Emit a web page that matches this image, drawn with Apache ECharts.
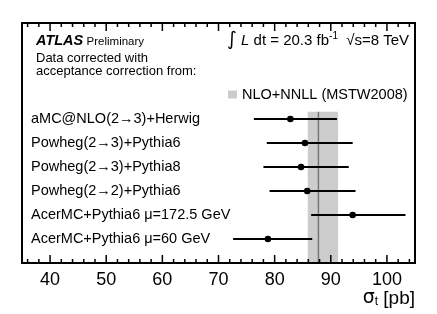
<!DOCTYPE html>
<html><head><meta charset="utf-8">
<script src="https://cdn.jsdelivr.net/npm/echarts@6/dist/echarts.min.js"></script>
<style>html,body{margin:0;padding:0;background:#fff}#c{width:437px;height:314px}</style>
</head><body><div id="c"></div>
<script>
const categories = ['aMC@NLO(2\u21923)+Herwig', 'Powheg(2\u21923)+Pythia6', 'Powheg(2\u21923)+Pythia8', 'Powheg(2\u21922)+Pythia6', 'AcerMC+Pythia6 \u03bc=172.5 GeV', 'AcerMC+Pythia6 \u03bc=60 GeV'];
const rowPos = [6, 5, 4, 3, 2, 1];
const central = [82.8, 85.4, 84.7, 85.8, 93.9, 78.8];
const low = [76.3, 78.6, 78.0, 79.1, 86.5, 72.6];
const high = [91.1, 93.9, 93.2, 94.4, 103.3, 86.7];
const theoryCentral = 87.8;
const theoryLow = 85.9;
const theoryHigh = 91.3;
const bandTop = 6.3;
const majorTicks = [40, 50, 60, 70, 80, 90, 100];
const minorTicks = [36, 38, 42, 44, 46, 48, 52, 54, 56, 58, 62, 64, 66, 68, 72, 74, 76, 78, 82, 84, 86, 88, 92, 94, 96, 98, 102, 104];
const xMin = 35, xMax = 105;

const FONT = 'Liberation Sans';
const chart = echarts.init(document.getElementById('c'), null, {renderer: 'canvas'});

const tickData = majorTicks.map(v => [v, 1]).concat(minorTicks.map(v => [v, 0]));

const option = {
  animation: false,
  grid: {left: 22, right: 22, top: 23, bottom: 51, containLabel: false, show: true, borderColor: '#000', borderWidth: 2, backgroundColor: 'transparent', z: 10},
  xAxis: {
    type: 'value', min: xMin, max: xMax, interval: 5,
    splitLine: {show: false},
    axisLine: {show: false},
    axisTick: {show: false},
    axisLabel: {color: '#000', fontFamily: FONT, fontSize: 18, margin: 8,
      formatter: function (v) { return majorTicks.indexOf(v) >= 0 ? String(v) : ''; }}
  },
  yAxis: {
    type: 'value', min: 0, max: 10, interval: 1,
    splitLine: {show: false},
    axisLine: {show: false},
    axisTick: {show: false},
    axisLabel: {inside: true, margin: 9, color: '#000', fontFamily: FONT, fontSize: 14.5,
      formatter: function (v) { const i = rowPos.indexOf(v); return i >= 0 ? categories[i] : ''; }}
  },
  legend: {
    left: 223, top: 82, itemWidth: 9, itemHeight: 8, itemGap: 4,
    textStyle: {fontFamily: FONT, fontSize: 14.5, color: '#000'},
    data: [{name: 'NLO+NNLL (MSTW2008)', icon: 'rect'}]
  },
  series: [
    {
      name: 'NLO+NNLL (MSTW2008)', type: 'line', data: [[theoryCentral, 0], [theoryCentral, bandTop]],
      symbol: 'none', color: '#cccccc', lineStyle: {color: '#777', width: 1.5}, z: 3,
      markArea: {silent: true, itemStyle: {color: '#cccccc'},
        data: [[{coord: [theoryLow, 0]}, {coord: [theoryHigh, bandTop]}]]}
    },
    {
      type: 'custom', z: 5,
      data: central.map((c, i) => [low[i], high[i], c, rowPos[i]]),
      renderItem: function (params, api) {
        const y = api.value(3);
        const pL = api.coord([api.value(0), y]);
        const pH = api.coord([api.value(1), y]);
        const pC = api.coord([api.value(2), y]);
        return {type: 'group', children: [
          {type: 'line', shape: {x1: pL[0], y1: pL[1], x2: pH[0], y2: pH[1]}, style: {stroke: '#000', lineWidth: 2}},
          {type: 'circle', shape: {cx: pC[0], cy: pC[1], r: 3.3}, style: {fill: '#000'}}
        ]};
      }
    },
    {
      type: 'custom', z: 11, silent: true,
      data: tickData,
      renderItem: function (params, api) {
        const cs = params.coordSys;
        const x = api.coord([api.value(0), 0])[0];
        const len = api.value(1) ? 8 : 4;
        const yb = cs.y + cs.height, yt = cs.y;
        return {type: 'group', children: [
          {type: 'line', shape: {x1: x, y1: yb, x2: x, y2: yb - len}, style: {stroke: '#000', lineWidth: 1.5}},
          {type: 'line', shape: {x1: x, y1: yt, x2: x, y2: yt + len}, style: {stroke: '#000', lineWidth: 1.5}}
        ]};
      }
    }
  ],
  graphic: [
    {type: 'text', left: 36, top: 33, style: {
      rich: {a: {fontFamily: FONT, fontSize: 14.5, fontWeight: 'bold', fontStyle: 'italic', fill: '#000'},
             p: {fontFamily: FONT, fontSize: 11.5, fill: '#000', padding: [2, 0, 0, 0]}},
      text: '{a|ATLAS} {p|Preliminary}'}},
    {type: 'text', left: 227, top: 31, style: {
      rich: {i: {fontFamily: 'DejaVu Sans', fontSize: 19, fill: '#000'},
             l: {fontFamily: FONT, fontSize: 15, fontStyle: 'italic', fill: '#000'},
             n: {fontFamily: FONT, fontSize: 15, fill: '#000'},
             s: {fontFamily: FONT, fontSize: 10, fill: '#000', verticalAlign: 'top', padding: [0, 0, 9, 0]}},
      text: '{i|\u222b}{l| L}{n| dt = 20.3 fb}{s|-1}{n|  \u221as=8 TeV}'}},
    {type: 'text', left: 36, top: 52, style: {
      fontFamily: FONT, fontSize: 13, fill: '#000', lineHeight: 12.5,
      text: 'Data corrected with\nacceptance correction from:'}},
    {type: 'text', right: 22, top: 289, style: {
      rich: {s: {fontFamily: 'DejaVu Sans', fontSize: 19, fill: '#000'},
             t: {fontFamily: FONT, fontSize: 12, fill: '#000', verticalAlign: 'bottom', padding: [7, 0, 0, 0]},
             n: {fontFamily: FONT, fontSize: 19, fill: '#000'}},
      text: '{s|\u03c3}{t|t}{n| [pb]}'}}
  ]
};
chart.setOption(option);
</script></body></html>
